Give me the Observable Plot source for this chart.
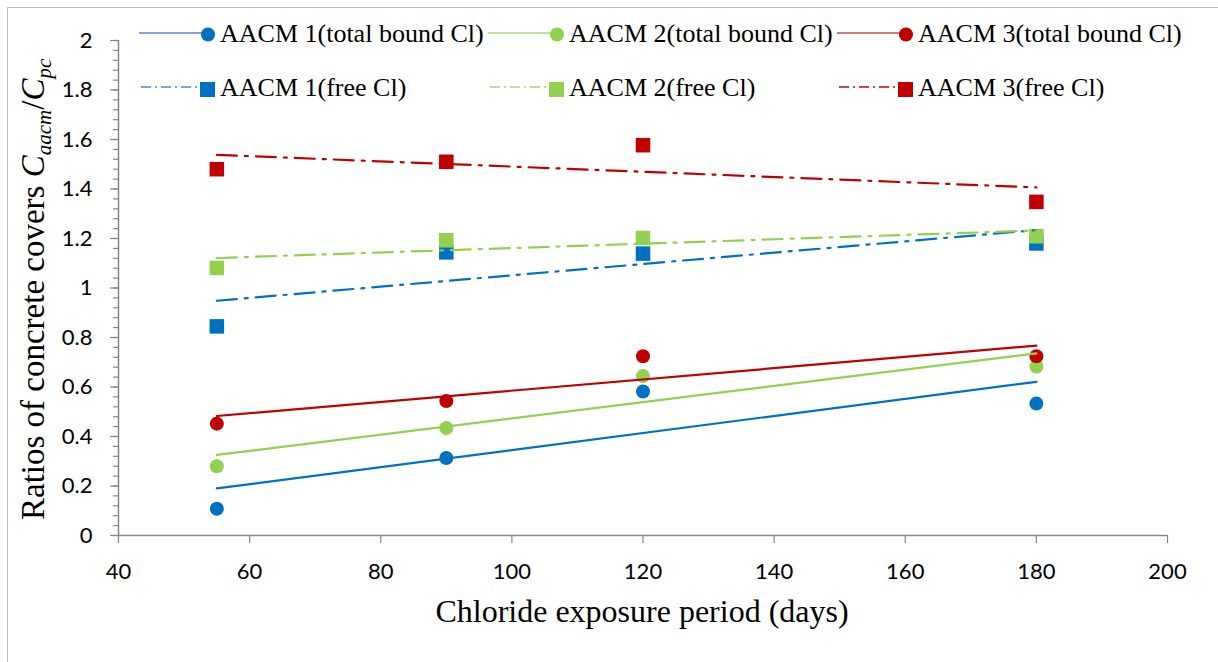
<!DOCTYPE html>
<html><head><meta charset="utf-8">
<script src="https://cdn.jsdelivr.net/npm/d3@7"></script>
<script src="https://cdn.jsdelivr.net/npm/@observablehq/plot@0.6"></script>
<style>
html,body{margin:0;padding:0;background:#fff;}
#wrap{position:relative;width:1218px;height:662px;overflow:hidden;}
#frame{position:absolute;left:7px;top:7px;width:1300px;height:700px;border-top:1.5px solid #bdbdbd;border-left:1.5px solid #bdbdbd;pointer-events:none;}
#chart{position:absolute;left:0;top:0;}
</style></head>
<body><div id="wrap"><div id="frame"></div><div id="chart"></div></div>
<script>
// ---- data ----
const days = [55, 90, 120, 180];
const total1 = [0.108, 0.313, 0.582, 0.533];
const total2 = [0.280, 0.434, 0.644, 0.683];
const total3 = [0.452, 0.543, 0.724, 0.724];
const free1 = [0.845, 1.144, 1.139, 1.180];
const free2 = [1.081, 1.193, 1.202, 1.209];
const free3 = [1.480, 1.510, 1.577, 1.348];
const totalNames = ["AACM 1(total bound Cl)", "AACM 2(total bound Cl)", "AACM 3(total bound Cl)"];
const freeNames = ["AACM 1(free Cl)", "AACM 2(free Cl)", "AACM 3(free Cl)"];
const colors = ["#0070C0", "#92D050", "#C00000"];
const legendLineColors = ["#5B86CC", "#A6D87A", "#C0504D"];
const legendDashColors = ["#3E8FD6", "#A6D87A", "#D00000"];
const xTicks = [40, 60, 80, 100, 120, 140, 160, 180, 200];
const yTicks = [0, 0.2, 0.4, 0.6, 0.8, 1, 1.2, 1.4, 1.6, 1.8, 2];
const yMinorTicks = d3.range(0, 2.0001, 0.04);
const xTitle = "Chloride exposure period (days)";
const yTitle = "Ratios of concrete covers ";

// ---- build tables ----
function rowsFor(vals, name, color) {
  return vals.map((v, j) => ({x: days[j], y: v, series: name, color}));
}
const totalSeries = [total1, total2, total3].map((v, i) => rowsFor(v, totalNames[i], colors[i]));
const freeSeries = [free1, free2, free3].map((v, i) => rowsFor(v, freeNames[i], colors[i]));
const circleRows = totalSeries.flat();
const squareRows = freeSeries.flat();

const gray = "#868686";
const plot = Plot.plot({
  width: 1218, height: 662,
  marginLeft: 118, marginRight: 51, marginTop: 40, marginBottom: 127,
  x: {domain: [40, 200], label: null},
  y: {domain: [0, 2], label: null},
  color: {type: "identity"},
  style: {fontFamily: "Lato, 'Open Sans', sans-serif", fontSize: "22px", color: "#000", background: "transparent", overflow: "visible"},
  marks: [
    Plot.axisY({ticks: yMinorTicks, tickSize: 5, tickFormat: () => "", stroke: gray, strokeWidth: 1.2, label: null}),
    Plot.axisY({ticks: yTicks, tickSize: 8, tickPadding: 18, tickFormat: d => String(+d.toFixed(1)), stroke: gray, strokeWidth: 1.2, fill: "#000", label: null}),
    Plot.axisX({ticks: xTicks, tickSize: 8, tickPadding: 20, tickFormat: d => String(d), stroke: gray, strokeWidth: 1.2, fill: "#000", label: null}),
    Plot.ruleX([40], {stroke: gray, strokeWidth: 1.5}),
    Plot.ruleY([0], {stroke: gray, strokeWidth: 1.5}),
    Plot.dot(circleRows, {x: "x", y: "y", r: 7, fill: "color", symbol: "circle", stroke: "none"}),
    Plot.dot(squareRows, {x: "x", y: "y", r: 8.2, fill: "color", symbol: "square", stroke: "none"}),
    ...totalSeries.map((rows, i) => Plot.linearRegressionY(rows, {x: "x", y: "y", stroke: colors[i], strokeWidth: 2.2, ci: 0})),
    ...freeSeries.map((rows, i) => Plot.linearRegressionY(rows, {x: "x", y: "y", stroke: colors[i], strokeWidth: 2.2, strokeDasharray: "20,8,3,8", ci: 0}))
  ]
});
document.getElementById("chart").appendChild(plot);

const svg = d3.select(plot);
const serif = "'Liberation Serif', 'Times New Roman', serif";

// ---- axis titles ----
svg.append("text").attr("x", 642).attr("y", 622)
  .style("text-anchor", "middle").style("font-family", serif).style("font-size", "32px")
  .attr("fill", "#000").text(xTitle);

const yt = svg.append("text").attr("transform", "translate(44,520) rotate(-90)")
  .style("text-anchor", "start").style("font-family", serif).style("font-size", "33px")
  .attr("fill", "#000");
yt.append("tspan").text(yTitle);
yt.append("tspan").style("font-style", "italic").text("C");
yt.append("tspan").style("font-style", "italic").style("font-size", "21px").attr("dy", 7).text("aacm");
yt.append("tspan").attr("dy", -7).text("/");
yt.append("tspan").style("font-style", "italic").text("C");
yt.append("tspan").style("font-style", "italic").style("font-size", "21px").attr("dy", 7).text("pc");

// ---- legend ----
const lg = svg.append("g");
const colX = [139, 488, 837];
const rowY = [33, 87];
function legendText(x, y, s) {
  lg.append("text").attr("x", x).attr("y", y)
    .style("font-family", serif).style("font-size", "26px").style("text-anchor", "start")
    .attr("fill", "#000").text(s);
}
for (let i = 0; i < 3; i++) {
  const x0 = colX[i];
  // row 1: solid line + circle
  lg.append("line").attr("x1", x0).attr("x2", x0 + 66).attr("y1", rowY[0]).attr("y2", rowY[0])
    .attr("stroke", legendLineColors[i]).attr("stroke-width", 1.6);
  lg.append("circle").attr("cx", x0 + 69).attr("cy", rowY[0] + 1.5).attr("r", 7).attr("fill", colors[i]);
  legendText(x0 + 81, 42, totalNames[i]);
  // row 2: dash-dot line + square
  lg.append("line").attr("x1", x0 + 2).attr("x2", x0 + 62).attr("y1", rowY[1]).attr("y2", rowY[1])
    .attr("stroke", legendDashColors[i]).attr("stroke-width", 1.6).attr("stroke-dasharray", "10,4,2,4");
  lg.append("rect").attr("x", x0 + 61).attr("y", rowY[1] - 5).attr("width", 15).attr("height", 15).attr("fill", colors[i]);
  legendText(x0 + 81, 96, freeNames[i]);
}
</script>
</body></html>
